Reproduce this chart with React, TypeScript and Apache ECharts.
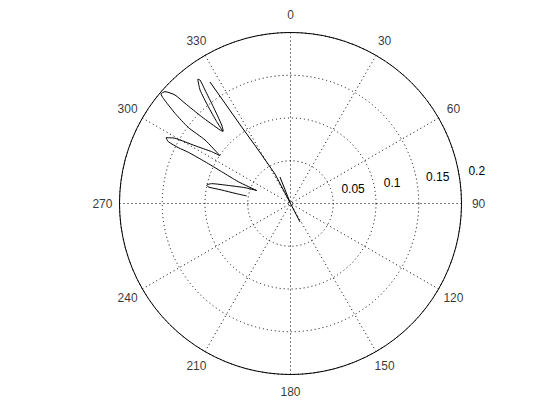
import React, { useEffect, useRef } from "react";
import * as echarts from "echarts";

// Angle tick labels (degrees, clockwise from top)
const angleTicks = [0, 30, 60, 90, 120, 150, 180, 210, 240, 270, 300, 330];
// Radial rings
const radialTicks = [0.05, 0.1, 0.15, 0.2];
const radialMax = 0.2;
// Angle labels sit at 1.1 x the outer radius
const angleLabelRadius = 0.22;

// Curve, as [x, y] in the plot's radial units (0 = centre)
const lobeCurve: number[][] = [
  [-0.0512, 0.0088], [-0.0649, 0.0119], [-0.0805, 0.0158], [-0.0961, 0.0193],
  [-0.098, 0.0216], [-0.0922, 0.0232], [-0.0727, 0.0211], [-0.0532, 0.0185],
  [-0.0395, 0.0152],
  [-0.0611, 0.0255], [-0.0805, 0.0372], [-0.1, 0.0489], [-0.1195, 0.0599],
  [-0.1312, 0.0653], [-0.1429, 0.0723], [-0.1456, 0.077],
  [-0.1351, 0.0763], [-0.1117, 0.0676], [-0.0922, 0.0606], [-0.0825, 0.0559],
  [-0.1, 0.0743], [-0.1195, 0.0889], [-0.1351, 0.1055], [-0.1488, 0.123],
  [-0.1515, 0.1281],
  [-0.1468, 0.1308], [-0.1351, 0.1269], [-0.1234, 0.1172], [-0.1039, 0.1015],
  [-0.0825, 0.086], [-0.0789, 0.0842],
  [-0.0863, 0.0957], [-0.0961, 0.1132], [-0.1058, 0.1328], [-0.1085, 0.1453],
  [-0.1058, 0.1444], [-0.1, 0.1328], [-0.0903, 0.1132], [-0.0805, 0.0918],
  [-0.0786, 0.0848],
];
const longLine: number[][] = [
  [-0.0942, 0.1421], [-0.0766, 0.1172], [-0.0579, 0.0906], [-0.0377, 0.0626],
  [-0.0181, 0.0345], [0, 0], [0.0111, -0.0216],
];
const spurLine: number[][] = [
  [-0.0123, 0.031], [0, 0],
];

const CX = 290.5;
const CY = 203.5;
const R = 171;
const FONT = "'Liberation Sans', Arial, Helvetica, sans-serif";

export default function App() {
  const ref = useRef<HTMLDivElement>(null);
  useEffect(() => {
    if (!ref.current) return;
    const chart = echarts.init(ref.current, undefined, { renderer: "svg" });
    const dotted = { color: "#000", width: 1, type: [1, 3] as number[] };
    const lineSeries = (data: number[][], smooth: number) => ({
      type: "line",
      coordinateSystem: "cartesian2d",
      data,
      smooth,
      showSymbol: false,
      symbol: "none",
      lineStyle: { color: "#000", width: 1 },
      z: 5,
    });
    chart.setOption({
      animation: false,
      backgroundColor: "#fff",
      textStyle: { fontFamily: FONT },
      polar: [
        { center: [CX, CY], radius: R },
        { center: [CX, CY], radius: R },
      ],
      angleAxis: [
        {
          polarIndex: 0,
          type: "value",
          min: 0,
          max: 360,
          interval: 30,
          startAngle: 90,
          clockwise: true,
          axisLine: { show: true, lineStyle: { color: "#000", width: 1 } },
          axisTick: { show: false },
          axisLabel: { show: false },
          splitLine: { show: true, lineStyle: dotted },
          z: 3,
        },
        {
          polarIndex: 1,
          type: "value",
          min: 0,
          max: 360,
          startAngle: 8,
          show: false,
        },
      ],
      radiusAxis: [
        {
          polarIndex: 0,
          type: "value",
          min: 0,
          max: radialMax,
          interval: 0.05,
          axisLine: { show: false },
          axisTick: { show: false },
          axisLabel: { show: false },
          splitLine: { show: true, lineStyle: dotted },
        },
        {
          polarIndex: 1,
          type: "value",
          min: 0,
          max: radialMax,
          interval: 0.05,
          axisLine: { show: false },
          axisTick: { show: false },
          splitLine: { show: false },
          axisLabel: {
            show: true,
            margin: 3,
            align: "left",
            verticalAlign: "bottom",
            padding: [0, 0, 0, 9],
            color: "#000",
            fontSize: 12,
            fontFamily: FONT,
            showMinLabel: false,
            formatter: (v: number) => {
              const t = radialTicks.find((r) => Math.abs(r - v) < 1e-9);
              return t === undefined ? "" : String(t);
            },
          },
        },
      ],
      grid: {
        left: CX - R,
        top: CY - R,
        width: 2 * R,
        height: 2 * R,
        show: false,
      },
      xAxis: { type: "value", min: -radialMax, max: radialMax, show: false },
      yAxis: { type: "value", min: -radialMax, max: radialMax, show: false },
      series: [
        lineSeries(lobeCurve, 0.2),
        lineSeries(longLine, 0),
        lineSeries(spurLine, 0),
        {
          type: "scatter",
          coordinateSystem: "polar",
          polarIndex: 0,
          clip: false,
          symbol: "circle",
          symbolSize: 2,
          itemStyle: { color: "rgba(255,255,255,0)" },
          z: 10,
          silent: true,
          data: angleTicks.map((a) => ({ value: [angleLabelRadius, a] })),
          label: {
            show: true,
            position: "inside",
            align: "center",
            verticalAlign: "middle",
            color: "#000",
            fontSize: 12,
            fontFamily: FONT,
            formatter: (p: any) =>
              p.value[1] === 0 ? "{gap|0}" : String(p.value[1]),
            rich: {
              gap: {
                backgroundColor: "#fff",
                padding: [10, 9, 11, 9],
                color: "#000",
                fontSize: 12,
                fontFamily: FONT,
              },
            },
          },
        },
      ],
    });
    return () => chart.dispose();
  }, []);
  return (
    <div
      ref={ref}
      style={{
        position: "fixed",
        left: 0,
        top: 0,
        width: 560,
        height: 420,
        background: "#fff",
      }}
    />
  );
}
